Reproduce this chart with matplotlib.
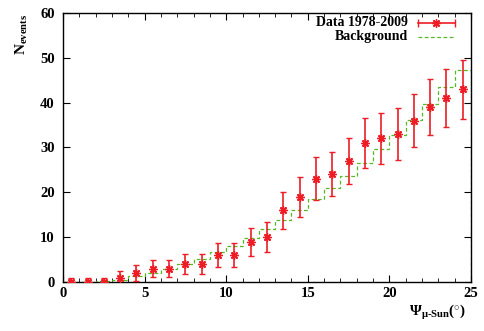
import numpy as np
import matplotlib
matplotlib.use("Agg")
import matplotlib.pyplot as plt
from matplotlib.ticker import MultipleLocator

plt.rcParams['font.family'] = ['Liberation Serif', 'DejaVu Serif']
plt.rcParams['font.weight'] = 'bold'
plt.rcParams['mathtext.fontset'] = 'custom'
plt.rcParams['mathtext.rm'] = 'Liberation Serif:bold'
plt.rcParams['mathtext.it'] = 'Liberation Serif:bold'

# data
bin_centers = [0.5, 1.5, 2.5, 3.5, 4.5, 5.5, 6.5, 7.5, 8.5, 9.5, 10.5, 11.5, 12.5,
               13.5, 14.5, 15.5, 16.5, 17.5, 18.5, 19.5, 20.5, 21.5, 22.5, 23.5, 24.5]
n_data = [0, 0, 0, 1, 2, 3, 3, 4, 4, 6, 6, 9, 10,
          16, 19, 23, 24, 27, 31, 32, 33, 36, 39, 41, 43]
n_err = [1.0, 1.0, 1.0, 1.4, 1.7, 1.9, 1.9, 2.2, 2.2, 2.6, 2.6, 3.1, 3.3,
         4.1, 4.4, 4.8, 4.9, 5.2, 5.6, 5.7, 5.7, 6.0, 6.2, 6.4, 6.6]
bin_edges = np.arange(0, 26, 1)
background = [0.05, 0.1, 0.2, 0.5, 1.3, 2.1, 3.0, 4.1, 5.2, 6.7, 8.1, 9.8, 11.8,
              13.8, 16.1, 18.4, 21.0, 23.6, 26.6, 29.6, 32.7, 36.1, 39.7, 43.4, 47.2]
labels = ['Data 1978-2009', 'Background']

red = '#ee1c25'
green = '#55bb22'

fig = plt.figure(figsize=(4.85, 3.31), dpi=100)
ax = fig.add_axes([0.130, 0.148, 0.841, 0.813])

ax.errorbar(bin_centers, n_data, yerr=n_err, fmt='none', ecolor=red,
            elinewidth=1.2, capsize=2.5, capthick=1.0, zorder=3)
ax.plot(bin_centers, n_data, linestyle='none', marker=(8, 2, 0), markersize=6,
        color=red, mew=1.0, zorder=4)
ax.stairs(background, bin_edges, color=green, linestyle=(0, (3, 2)),
          linewidth=0.9, zorder=2)

# key, gnuplot style: text right-aligned, sample to the right
tr = ax.transAxes
ax.text(0.846, 0.963, labels[0], transform=tr, ha='right', va='center', fontsize=10)
ax.text(0.846, 0.911, labels[1], transform=tr, ha='right', va='center', fontsize=10)
ax.plot([0.870, 0.961], [0.963, 0.963], transform=tr, color=red, lw=1.2, clip_on=False)
ax.plot([0.870, 0.961], [0.963, 0.963], transform=tr, color=red, lw=0, marker='|',
        markersize=6, mew=1.0, clip_on=False)
ax.plot([0.9155], [0.963], transform=tr, color=red, marker=(8, 2, 0), markersize=6,
        mew=1.0, clip_on=False)
ax.plot([0.870, 0.961], [0.911, 0.911], transform=tr, color=green,
        linestyle=(0, (3, 2)), lw=0.9, clip_on=False)

ax.set_xlim(0, 25)
ax.set_ylim(0, 60)
ax.xaxis.set_major_locator(MultipleLocator(5))
ax.xaxis.set_minor_locator(MultipleLocator(1))
ax.yaxis.set_major_locator(MultipleLocator(10))
ax.tick_params(which='both', direction='in', top=True, right=True, labelsize=10.5)
ax.tick_params(which='major', length=5, width=0.8)
ax.tick_params(which='minor', length=3, width=0.6)
ax.tick_params(axis='y', pad=6)
for s in ax.spines.values():
    s.set_linewidth(1.0)

ax.text(-0.10, 0.92, r'N$_{\mathrm{events}}$', transform=tr, rotation=90,
        ha='center', va='center', fontsize=11)
ax.text(0.917, -0.115, r'$\Psi_{\mathrm{\mu\text{-}Sun}}$($^{\circ}$)', transform=tr,
        ha='center', va='center', fontsize=11)

fig.savefig('out.png', dpi=100)
